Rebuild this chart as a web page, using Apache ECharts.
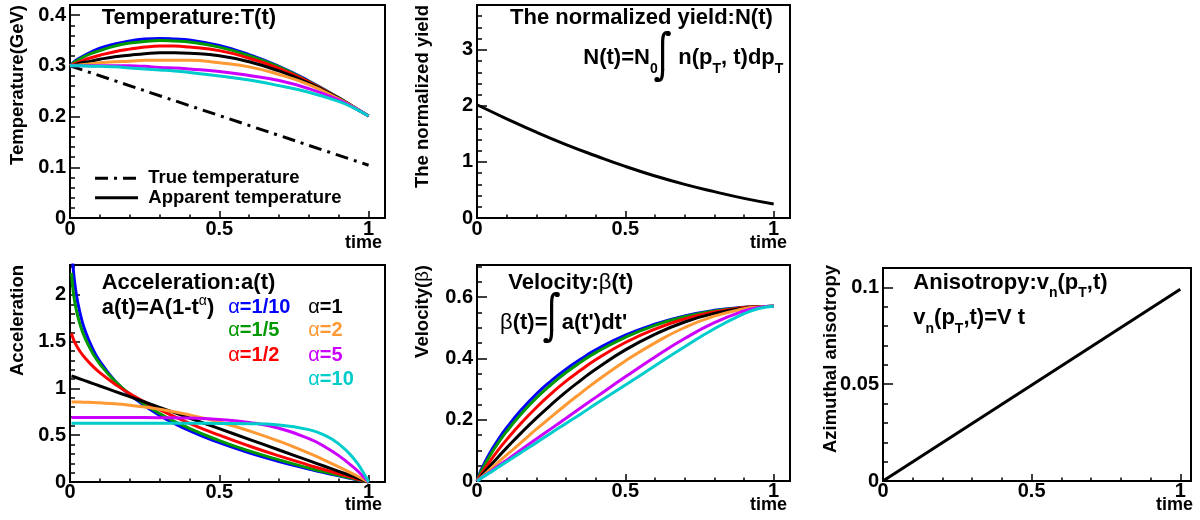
<!DOCTYPE html>
<html>
<head>
<meta charset="utf-8">
<script src="https://cdn.jsdelivr.net/npm/echarts@6/dist/echarts.min.js"></script>
<style>
  html, body { margin: 0; padding: 0; background: #ffffff; }
  #chart { width: 1200px; height: 520px; }
</style>
</head>
<body>
<div id="chart"></div>
<script>
// ---- time samples ----
const timeSteps = [0, 0.01, 0.02, 0.04, 0.07, 0.1, 0.15, 0.2, 0.25, 0.3, 0.35, 0.4, 0.5, 0.6, 0.7, 0.8, 0.9, 0.95, 1];
const accTimeSteps = [0.005, 0.01, 0.02, 0.035, 0.05, 0.075, 0.1, 0.15, 0.2, 0.3, 0.4, 0.5, 0.6, 0.7, 0.8, 0.85, 0.9, 0.95, 0.98, 1];
const decimalTimes = [0, 0.1, 0.2, 0.3, 0.4, 0.5, 0.6, 0.7, 0.8, 0.9, 1];
const lineEnds = [0, 1];

const alphaLabels = ['α=1/10', 'α=1/5', 'α=1/2', 'α=1', 'α=2', 'α=5', 'α=10'];

// ---- temperature T(t) [GeV] ----
const trueTemperature = [0.300, 0.104];
const tempAlpha1over10 = [0.300, 0.306, 0.311, 0.318, 0.327, 0.335, 0.343, 0.349, 0.353, 0.354, 0.353, 0.351, 0.340, 0.322, 0.299, 0.270, 0.237, 0.219, 0.201];
const tempAlpha1over5  = [0.300, 0.305, 0.309, 0.316, 0.324, 0.330, 0.339, 0.345, 0.348, 0.350, 0.349, 0.347, 0.337, 0.320, 0.298, 0.269, 0.237, 0.219, 0.201];
const tempAlpha1over2  = [0.300, 0.303, 0.305, 0.310, 0.316, 0.321, 0.328, 0.333, 0.337, 0.339, 0.339, 0.337, 0.330, 0.315, 0.295, 0.268, 0.236, 0.219, 0.201];
const tempAlpha1       = [0.300, 0.301, 0.303, 0.306, 0.309, 0.313, 0.318, 0.321, 0.324, 0.326, 0.326, 0.325, 0.320, 0.308, 0.290, 0.266, 0.236, 0.219, 0.201];
const tempAlpha2       = [0.300, 0.301, 0.301, 0.302, 0.304, 0.306, 0.308, 0.309, 0.311, 0.311, 0.311, 0.311, 0.306, 0.298, 0.283, 0.263, 0.235, 0.219, 0.201];
const tempAlpha5       = [0.300, 0.300, 0.300, 0.300, 0.300, 0.300, 0.300, 0.300, 0.299, 0.297, 0.296, 0.294, 0.289, 0.281, 0.271, 0.255, 0.233, 0.218, 0.201];
const tempAlpha10      = [0.300, 0.300, 0.300, 0.300, 0.299, 0.299, 0.298, 0.296, 0.294, 0.292, 0.290, 0.287, 0.280, 0.272, 0.261, 0.248, 0.230, 0.217, 0.201];

// ---- normalized yield N(t) ----
const normalizedYield = [2.02, 1.77, 1.53, 1.31, 1.11, 0.92, 0.75, 0.60, 0.47, 0.35, 0.25];

// ---- acceleration a(t) ----
const accAlpha1over10 = [2.579, 2.314, 2.030, 1.786, 1.623, 1.431, 1.290, 1.083, 0.932, 0.711, 0.549, 0.420, 0.312, 0.219, 0.139, 0.101, 0.066, 0.032, 0.013, 0];
const accAlpha1over5  = [2.235, 2.058, 1.856, 1.671, 1.541, 1.383, 1.262, 1.080, 0.941, 0.732, 0.573, 0.443, 0.332, 0.236, 0.149, 0.109, 0.071, 0.035, 0.014, 0];
const accAlpha1over2  = [1.589, 1.539, 1.468, 1.390, 1.328, 1.242, 1.169, 1.048, 0.945, 0.773, 0.628, 0.501, 0.385, 0.279, 0.181, 0.133, 0.088, 0.043, 0.017, 0];
const accAlpha1       = [1.134, 1.129, 1.117, 1.100, 1.083, 1.055, 1.026, 0.969, 0.912, 0.798, 0.684, 0.570, 0.456, 0.342, 0.228, 0.171, 0.114, 0.057, 0.023, 0];
const accAlpha2       = [0.855, 0.855, 0.855, 0.854, 0.853, 0.850, 0.846, 0.836, 0.821, 0.778, 0.718, 0.641, 0.547, 0.436, 0.308, 0.237, 0.162, 0.083, 0.034, 0];
const accAlpha5       = [0.690, 0.690, 0.690, 0.690, 0.690, 0.690, 0.690, 0.690, 0.690, 0.688, 0.683, 0.669, 0.637, 0.574, 0.464, 0.384, 0.282, 0.156, 0.066, 0];
const accAlpha10      = [0.627, 0.627, 0.627, 0.627, 0.627, 0.627, 0.627, 0.627, 0.627, 0.627, 0.627, 0.626, 0.623, 0.609, 0.560, 0.504, 0.408, 0.252, 0.115, 0];

// ---- velocity beta(t) ----
const velAlpha1over10 = [0, 0.027, 0.048, 0.086, 0.133, 0.174, 0.233, 0.284, 0.327, 0.365, 0.398, 0.428, 0.476, 0.512, 0.539, 0.557, 0.567, 0.569, 0.570];
const velAlpha1over5  = [0, 0.023, 0.042, 0.077, 0.122, 0.162, 0.220, 0.271, 0.315, 0.354, 0.388, 0.419, 0.469, 0.508, 0.536, 0.555, 0.566, 0.569, 0.570];
const velAlpha1over2  = [0, 0.016, 0.031, 0.059, 0.099, 0.135, 0.190, 0.240, 0.285, 0.326, 0.362, 0.396, 0.452, 0.496, 0.529, 0.552, 0.566, 0.569, 0.570];
const velAlpha1       = [0, 0.011, 0.023, 0.045, 0.077, 0.108, 0.158, 0.205, 0.249, 0.291, 0.329, 0.365, 0.428, 0.479, 0.519, 0.547, 0.564, 0.569, 0.570];
const velAlpha2       = [0, 0.009, 0.017, 0.034, 0.060, 0.085, 0.127, 0.169, 0.209, 0.249, 0.287, 0.324, 0.392, 0.451, 0.501, 0.538, 0.562, 0.568, 0.570];
const velAlpha5       = [0, 0.007, 0.014, 0.027, 0.048, 0.068, 0.103, 0.137, 0.171, 0.205, 0.239, 0.273, 0.340, 0.405, 0.465, 0.517, 0.555, 0.566, 0.570];
const velAlpha10      = [0, 0.006, 0.013, 0.025, 0.044, 0.063, 0.094, 0.125, 0.157, 0.188, 0.219, 0.251, 0.313, 0.376, 0.438, 0.497, 0.546, 0.563, 0.570];

// ---- azimuthal anisotropy v_n(pT, t) ----
const anisotropy = [0, 0.099];

// ---------------------------------------------------------------
const FONT = '"Liberation Sans", Arial, Helvetica, sans-serif';
const curveColors = ['#0000ff', '#009900', '#ff0000', '#000000', '#ff9933', '#cc00ff', '#00cccc'];
const TRUE_DASH = [13, 6, 3, 6];

// frame of each pad: temperature, yield, acceleration, velocity, anisotropy
const pads = [
  { left: 70,  top: 5,   width: 315, height: 213, xMax: 1.055, yMax: 0.42,  yMajor: 0.1,  yMinor: 0.02, labelGap: 1 },
  { left: 477, top: 5,   width: 313, height: 213, xMax: 1.055, yMax: 3.8,   yMajor: 1,    yMinor: 0.2,  labelGap: 1 },
  { left: 70,  top: 265, width: 315, height: 217, xMax: 1.055, yMax: 2.32,  yMajor: 0.5,  yMinor: 0.1,  labelGap: 0 },
  { left: 477, top: 265, width: 313, height: 216, xMax: 1.055, yMax: 0.705, yMajor: 0.2,  yMinor: 0.05, labelGap: 0 },
  { left: 883, top: 268, width: 308, height: 213, xMax: 1.036, yMax: 0.11,  yMajor: 0.05, yMinor: 0.01, labelGap: 0 }
];

const isMultiple = (v, step) => Math.abs(v / step - Math.round(v / step)) < 1e-6;
const fmt = v => String(parseFloat(v.toFixed(4)));
const labelFont = { fontFamily: FONT, fontWeight: 'bold', fontSize: 20, color: '#000' };

const grid = [], xAxis = [], yAxis = [];
pads.forEach((p, i) => {
  grid.push({ left: p.left, top: p.top, width: p.width, height: p.height,
              show: true, borderColor: '#000', borderWidth: 2, backgroundColor: 'transparent',
              containLabel: false });
  // major ticks with labels
  xAxis.push({ gridIndex: i, type: 'value', position: 'bottom', min: 0, max: p.xMax, interval: 0.5,
    axisLine: { show: false }, splitLine: { show: false },
    axisTick: { show: true, inside: true, length: 7, lineStyle: { color: '#000', width: 1.5 } },
    axisLabel: Object.assign({ margin: p.labelGap, formatter: v => (isMultiple(v, 0.5) && v <= 1.0001) ? fmt(v) : '' }, labelFont) });
  // minor ticks
  xAxis.push({ gridIndex: i, type: 'value', position: 'bottom', min: 0, max: p.xMax, interval: 0.1,
    axisLine: { show: false }, splitLine: { show: false }, axisLabel: { show: false },
    axisTick: { show: true, inside: true, length: 3.5, lineStyle: { color: '#000', width: 1.5 } } });
  yAxis.push({ gridIndex: i, type: 'value', position: 'left', min: 0, max: p.yMax, interval: p.yMajor,
    axisLine: { show: false }, splitLine: { show: false },
    axisTick: { show: true, inside: true, length: 10, lineStyle: { color: '#000', width: 1.5 } },
    axisLabel: Object.assign({ margin: 4, formatter: v => isMultiple(v, p.yMajor) ? fmt(v) : '' }, labelFont) });
  yAxis.push({ gridIndex: i, type: 'value', position: 'left', min: 0, max: p.yMax, interval: p.yMinor,
    axisLine: { show: false }, splitLine: { show: false }, axisLabel: { show: false },
    axisTick: { show: true, inside: true, length: 5, lineStyle: { color: '#000', width: 1.5 } } });
});

const pairs = (xs, ys) => ys.map((y, k) => [xs[k], y]);
function curve(name, pad, xs, ys, color, lineType) {
  return {
    type: 'line', name, xAxisIndex: 2 * pad, yAxisIndex: 2 * pad,
    data: pairs(xs, ys), symbol: 'none', showSymbol: false,
    smooth: 0.5, silent: true, clip: true,
    lineStyle: { color, width: 3, type: lineType || 'solid' },
    itemStyle: { color }
  };
}

const tempCurves = [tempAlpha1over10, tempAlpha1over5, tempAlpha1over2, tempAlpha1, tempAlpha2, tempAlpha5, tempAlpha10];
const accCurves  = [accAlpha1over10, accAlpha1over5, accAlpha1over2, accAlpha1, accAlpha2, accAlpha5, accAlpha10];
const velCurves  = [velAlpha1over10, velAlpha1over5, velAlpha1over2, velAlpha1, velAlpha2, velAlpha5, velAlpha10];

const series = [];
series.push(curve('True temperature', 0, lineEnds, trueTemperature, '#000', TRUE_DASH));
tempCurves.forEach((c, k) => series.push(curve('T ' + alphaLabels[k], 0, timeSteps, c, curveColors[k])));
series.push(curve('N(t)', 1, decimalTimes, normalizedYield, '#000'));
accCurves.forEach((c, k) => series.push(curve('a ' + alphaLabels[k], 2, accTimeSteps, c, curveColors[k])));
velCurves.forEach((c, k) => series.push(curve('β ' + alphaLabels[k], 3, timeSteps, c, curveColors[k])));
series.push(curve('v_n', 4, lineEnds, anisotropy, '#000'));

// ---- text annotations (titles, formulas, axis titles, legend) ----
function fontSet(size, weight) { return { fontSize: size, fontFamily: FONT, fontWeight: weight || 'bold' }; }
function richFor(size, color) {
  const sub = Math.round(size * 0.64);
  return {
    sub: Object.assign({ fill: color, padding: [Math.round(size * 1.0), 0, 0, 0] }, fontSet(sub)),
    sup: Object.assign({ fill: color, padding: [0, 0, Math.round(size * 0.6), 0] }, fontSet(sub, 'normal')),
    g:   Object.assign({ fill: color }, fontSet(size, 'normal'))
  };
}
function txt(x, y, text, size, opts) {
  opts = opts || {};
  const color = opts.color || '#000';
  return {
    type: 'text', x, y, rotation: opts.rotation || 0, silent: true, z: 10,
    style: Object.assign({ text, fill: color, align: opts.align || 'left', verticalAlign: 'middle',
                           rich: richFor(size, color) }, fontSet(size, opts.weight))
  };
}
const vertical = { rotation: Math.PI / 2, align: 'right' };

// integral sign: curved top, straight stem, curved bottom, a ball at each end
function integral(x, y, h) {
  const w = h * 0.22, s = w * 0.5;
  const pen = { stroke: '#000', lineWidth: 3.2, fill: null, lineCap: 'round' };
  return {
    type: 'group', x, y, silent: true, z: 10,
    children: [
      { type: 'bezierCurve', shape: { x1: w, y1: 2, cpx1: s * 1.1, cpy1: 0, cpx2: s, cpy2: h * 0.12, x2: s, y2: h * 0.25 }, style: pen },
      { type: 'line', shape: { x1: s, y1: h * 0.25, x2: s, y2: h * 0.75 }, style: pen },
      { type: 'bezierCurve', shape: { x1: s, y1: h * 0.75, cpx1: s, cpy1: h * 0.88, cpx2: s * 0.9, cpy2: h, x2: 0, y2: h - 2 }, style: pen },
      { type: 'circle', shape: { cx: w, cy: 2.5, r: 2.6 }, style: { fill: '#000' } },
      { type: 'circle', shape: { cx: 0, cy: h - 2.5, r: 2.6 }, style: { fill: '#000' } }
    ]
  };
}
function legendLine(x1, x2, y, dash) {
  return { type: 'line', silent: true, z: 10, shape: { x1, y1: y, x2, y2: y },
           style: { stroke: '#000', lineWidth: 3, lineDash: dash || null } };
}

const graphic = [
  // temperature pad
  txt(101.7, 18.3, 'Temperature:T(t)', 22),
  txt(18.3, 5, 'Temperature(GeV)', 18.5, vertical),
  txt(382, 243, 'time', 18, { align: 'right' }),
  legendLine(95, 138, 178.3, TRUE_DASH),
  txt(148.3, 178.3, 'True temperature', 18.5),
  legendLine(95, 138, 197.7),
  txt(148.3, 197.7, 'Apparent temperature', 18.5),
  // yield pad
  txt(510, 17.5, 'The normalized yield:N(t)', 22),
  txt(583.3, 58.3, 'N(t)=N{sub|0}', 22),
  integral(657, 31, 51),
  txt(678.3, 58.3, 'n(p{sub|T}, t)dp{sub|T}', 22),
  txt(422.5, 5, 'The normalized yield', 18.5, vertical),
  txt(787, 243, 'time', 18, { align: 'right' }),
  // acceleration pad
  txt(101.7, 283.3, 'Acceleration:a(t)', 22),
  txt(101.7, 307.5, 'a(t)=A(1-t{sup|α})', 22),
  txt(228.3, 307.5, '{g|α}=1/10', 20, { color: curveColors[0] }),
  txt(228.3, 330.8, '{g|α}=1/5', 20, { color: curveColors[1] }),
  txt(228.3, 355, '{g|α}=1/2', 20, { color: curveColors[2] }),
  txt(308.3, 307.5, '{g|α}=1', 20, { color: curveColors[3] }),
  txt(308.3, 330.8, '{g|α}=2', 20, { color: curveColors[4] }),
  txt(308.3, 355, '{g|α}=5', 20, { color: curveColors[5] }),
  txt(308.3, 379, '{g|α}=10', 20, { color: curveColors[6] }),
  txt(18.3, 265, 'Acceleration', 18.5, vertical),
  txt(382, 505.5, 'time', 18, { align: 'right' }),
  // velocity pad
  txt(508.3, 283.3, 'Velocity:{g|β}(t)', 22),
  txt(500, 323.3, '{g|β}(t)=', 22),
  integral(546, 292, 51),
  txt(561.7, 323.3, "a(t')dt'", 22),
  txt(422.5, 265, 'Velocity({g|β})', 18.5, vertical),
  txt(787, 505.5, 'time', 18, { align: 'right' }),
  // anisotropy pad
  txt(913.3, 282.5, 'Anisotropy:v{sub|n}(p{sub|T},t)', 22),
  txt(913.3, 318.3, 'v{sub|n}(p{sub|T},t)=V t', 22),
  txt(831, 265, 'Azimuthal anisotropy', 18.5, vertical),
  txt(1193, 505.5, 'time', 18, { align: 'right' })
];

const chart = echarts.init(document.getElementById('chart'), null, { renderer: 'canvas' });
chart.setOption({
  animation: false,
  backgroundColor: '#ffffff',
  grid, xAxis, yAxis, series, graphic
});
</script>
</body>
</html>
